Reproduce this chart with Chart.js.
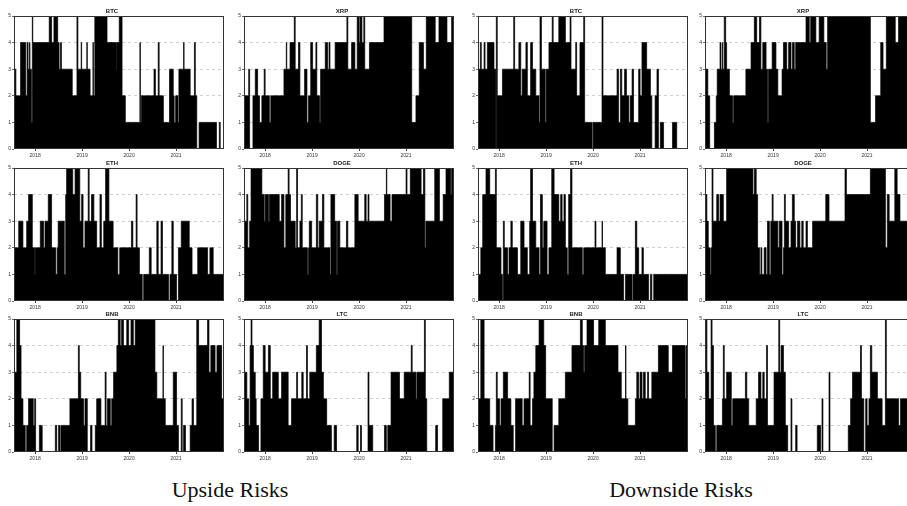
<!DOCTYPE html>
<html>
<head>
<meta charset="utf-8">
<script src="https://cdn.jsdelivr.net/npm/chart.js@4.4.1/dist/chart.umd.min.js"></script>
<style>
  body { margin: 0; width: 907px; height: 506px; overflow: hidden; background: #fff; position: relative; }
  .panel { position: absolute; }
  .cap { position: absolute; font-family: "Liberation Serif", "DejaVu Serif", serif; font-size: 22px; color: #111;
         transform: translateX(-50%); white-space: nowrap; }
</style>
</head>
<body>
<div class="cap" style="left:230px; top:477px;">Upside Risks</div>
<div class="cap" style="left:681px; top:477px;">Downside Risks</div>
<script>
// axis labels
const yearTicks = [2018, 2019, 2020, 2021];
const riskLevels = [0, 1, 2, 3, 4, 5];
const xStart = 2017.55, xEnd = 2022.02;
const lastDate = 2022.0;

// each series: [decimal year where the level starts, risk level]
// --- upside risks ---
const btcUp = [[2017.55,3],[2017.59,2],[2017.69,4],[2017.80,2],[2017.83,4],[2017.85,3],[2017.88,4],[2017.89,3],[2017.92,1],[2017.94,5],
  [2017.95,4],[2018.30,5],[2018.35,4],[2018.40,5],[2018.48,4],[2018.51,3],[2018.54,4],[2018.56,3],[2018.79,2],[2018.89,5],
  [2018.91,3],[2018.98,4],[2018.99,3],[2019.10,4],[2019.11,3],[2019.17,2],[2019.23,4],[2019.24,2],[2019.27,5],[2019.53,4],
  [2019.73,3],[2019.74,4],[2019.79,5],[2019.85,2],[2019.92,1],[2020.23,4],[2020.24,1],[2020.26,2],[2020.53,3],[2020.56,2],
  [2020.62,4],[2020.64,2],[2020.73,1],[2020.86,3],[2020.94,2],[2020.96,1],[2020.99,2],[2021.04,1],[2021.06,3],[2021.16,4],
  [2021.17,3],[2021.30,2],[2021.39,4],[2021.41,2],[2021.44,0],[2021.49,1],[2021.86,0],[2021.92,1],[2021.94,0]];
const xrpUp = [[2017.55,2],[2017.65,3],[2017.67,0],[2017.74,2],[2017.79,3],[2017.84,2],[2017.88,1],[2017.93,2],[2017.98,3],[2018.00,2],
  [2018.09,1],[2018.12,2],[2018.40,3],[2018.45,4],[2018.46,3],[2018.53,4],[2018.62,5],[2018.64,3],[2018.71,4],[2018.74,2],
  [2018.84,3],[2018.89,1],[2018.92,2],[2018.97,4],[2019.01,3],[2019.08,4],[2019.10,2],[2019.16,1],[2019.18,3],[2019.28,4],
  [2019.33,3],[2019.36,4],[2019.38,3],[2019.49,4],[2019.74,5],[2019.76,3],[2019.84,4],[2019.91,3],[2019.96,5],[2020.00,4],
  [2020.02,5],[2020.06,4],[2020.10,5],[2020.12,3],[2020.22,4],[2020.53,5],[2021.12,1],[2021.21,2],[2021.28,4],[2021.37,3],
  [2021.43,5],[2021.62,4],[2021.70,5],[2021.87,4],[2021.97,5]];
const ethUp = [[2017.55,4],[2017.56,2],[2017.65,3],[2017.74,2],[2017.82,3],[2017.86,4],[2017.94,2],[2017.99,1],[2018.00,2],[2018.11,3],
  [2018.18,2],[2018.21,3],[2018.28,4],[2018.35,2],[2018.44,1],[2018.47,2],[2018.49,3],[2018.62,1],[2018.65,4],[2018.67,5],
  [2018.80,4],[2018.85,5],[2018.95,3],[2018.99,4],[2019.02,2],[2019.06,3],[2019.13,5],[2019.15,3],[2019.20,4],[2019.25,3],
  [2019.31,2],[2019.38,4],[2019.41,2],[2019.46,3],[2019.50,5],[2019.57,3],[2019.66,2],[2019.76,1],[2019.80,2],[2020.05,3],
  [2020.08,2],[2020.15,4],[2020.17,2],[2020.22,1],[2020.28,0],[2020.31,1],[2020.43,2],[2020.47,1],[2020.59,3],[2020.62,1],
  [2020.68,3],[2020.71,1],[2020.84,0],[2020.87,1],[2020.91,3],[2020.94,1],[2021.01,0],[2021.05,2],[2021.11,3],[2021.28,2],
  [2021.34,1],[2021.46,2],[2021.67,1],[2021.72,2],[2021.79,1]];
const dogeUp = [[2017.56,3],[2017.61,4],[2017.63,2],[2017.67,3],[2017.70,5],[2017.93,4],[2017.98,3],[2018.00,4],[2018.07,3],[2018.09,4],
  [2018.30,3],[2018.35,4],[2018.40,2],[2018.44,4],[2018.49,5],[2018.51,4],[2018.54,3],[2018.64,2],[2018.67,5],[2018.69,2],
  [2018.74,3],[2018.77,4],[2018.79,2],[2018.90,1],[2018.92,2],[2018.94,3],[2018.99,2],[2019.09,4],[2019.12,2],[2019.15,3],
  [2019.22,4],[2019.25,2],[2019.38,1],[2019.40,4],[2019.48,3],[2019.52,1],[2019.54,3],[2019.59,2],[2019.73,3],[2019.76,2],
  [2019.91,4],[2019.98,3],[2020.12,4],[2020.15,3],[2020.19,4],[2020.21,3],[2020.54,4],[2020.58,5],[2020.59,4],[2020.66,3],
  [2020.70,4],[2021.00,5],[2021.02,4],[2021.09,5],[2021.32,4],[2021.37,5],[2021.40,2],[2021.42,3],[2021.61,5],[2021.71,3],
  [2021.79,4],[2021.85,5],[2021.95,4],[2021.97,5]];
const bnbUp = [[2017.56,3],[2017.61,5],[2017.67,4],[2017.70,2],[2017.74,1],[2017.79,0],[2017.82,1],[2017.86,2],[2017.96,1],[2017.99,2],
  [2018.01,0],[2018.09,1],[2018.15,0],[2018.43,1],[2018.46,0],[2018.50,1],[2018.53,0],[2018.55,1],[2018.74,2],[2018.92,4],
  [2018.94,3],[2018.97,2],[2019.03,1],[2019.06,2],[2019.11,0],[2019.18,1],[2019.21,0],[2019.28,1],[2019.31,2],[2019.40,1],
  [2019.49,3],[2019.51,1],[2019.54,2],[2019.60,1],[2019.63,2],[2019.67,3],[2019.74,4],[2019.77,5],[2019.81,4],[2019.84,5],
  [2019.88,4],[2019.95,5],[2019.99,4],[2020.04,5],[2020.09,4],[2020.13,5],[2020.55,3],[2020.59,2],[2020.72,4],[2020.73,2],
  [2020.77,1],[2020.94,3],[2021.01,1],[2021.05,0],[2021.11,2],[2021.13,0],[2021.16,1],[2021.20,0],[2021.30,1],[2021.34,2],
  [2021.37,1],[2021.44,5],[2021.48,4],[2021.67,5],[2021.70,3],[2021.74,4],[2021.83,3],[2021.87,4],[2021.97,2]];
const ltcUp = [[2017.56,3],[2017.61,2],[2017.65,1],[2017.68,4],[2017.70,5],[2017.72,4],[2017.75,3],[2017.79,2],[2017.81,1],[2017.86,0],
  [2017.91,2],[2017.96,4],[2018.00,3],[2018.07,4],[2018.11,2],[2018.16,3],[2018.28,2],[2018.35,3],[2018.49,1],[2018.56,2],
  [2018.67,3],[2018.69,2],[2018.78,3],[2018.81,2],[2018.88,4],[2018.90,2],[2018.95,3],[2019.09,4],[2019.15,5],[2019.20,3],
  [2019.24,2],[2019.31,1],[2019.41,0],[2019.47,1],[2019.52,0],[2019.95,1],[2019.98,0],[2020.03,1],[2020.05,0],[2020.19,3],
  [2020.21,1],[2020.29,0],[2020.54,1],[2020.58,0],[2020.61,1],[2020.68,3],[2020.86,2],[2020.96,3],[2021.11,4],[2021.13,3],
  [2021.21,2],[2021.23,3],[2021.39,5],[2021.41,2],[2021.44,0],[2021.63,1],[2021.67,0],[2021.78,2],[2021.92,3]];

// --- downside risks ---
const btcDown = [[2017.56,3],[2017.60,4],[2017.62,3],[2017.68,4],[2017.70,3],[2017.75,4],[2017.89,3],[2017.93,0],[2017.94,5],[2017.96,2],
  [2018.07,3],[2018.31,5],[2018.33,3],[2018.42,4],[2018.46,2],[2018.49,3],[2018.57,4],[2018.60,2],[2018.67,4],[2018.71,3],
  [2018.78,2],[2018.85,1],[2018.87,5],[2018.90,3],[2018.98,1],[2019.00,3],[2019.06,4],[2019.13,5],[2019.15,4],[2019.27,5],
  [2019.41,4],[2019.51,5],[2019.53,3],[2019.63,4],[2019.65,2],[2019.72,4],[2019.80,5],[2019.82,1],[2019.98,0],[2020.00,1],
  [2020.19,5],[2020.21,2],[2020.51,3],[2020.54,1],[2020.58,3],[2020.61,2],[2020.67,3],[2020.71,2],[2020.76,1],[2020.79,2],
  [2020.83,3],[2020.86,1],[2020.97,3],[2021.00,2],[2021.04,4],[2021.14,3],[2021.22,2],[2021.25,0],[2021.32,2],[2021.36,3],
  [2021.39,0],[2021.43,1],[2021.50,0],[2021.69,1],[2021.78,0]];
const xrpDown = [[2017.56,3],[2017.61,2],[2017.65,0],[2017.75,1],[2017.79,2],[2017.81,3],[2017.87,4],[2017.89,3],[2017.92,4],[2017.93,3],
  [2017.96,5],[2017.99,4],[2018.01,3],[2018.07,2],[2018.14,1],[2018.16,2],[2018.42,3],[2018.53,4],[2018.60,5],[2018.65,4],
  [2018.71,5],[2018.74,3],[2018.78,4],[2018.85,3],[2018.88,1],[2018.90,3],[2018.98,4],[2019.06,3],[2019.10,2],[2019.19,3],
  [2019.22,4],[2019.29,3],[2019.33,4],[2019.38,3],[2019.41,4],[2019.45,3],[2019.48,4],[2019.70,5],[2019.77,4],[2019.80,5],
  [2019.91,4],[2019.98,5],[2020.08,4],[2020.13,3],[2020.16,5],[2021.07,1],[2021.18,2],[2021.29,4],[2021.34,3],[2021.41,5],
  [2021.60,4],[2021.67,5]];
const ethDown = [[2017.57,1],[2017.61,2],[2017.65,4],[2017.72,5],[2017.80,4],[2017.92,5],[2017.94,2],[2018.04,1],[2018.07,0],[2018.09,3],
  [2018.11,2],[2018.18,1],[2018.21,2],[2018.25,3],[2018.28,2],[2018.39,1],[2018.46,3],[2018.53,2],[2018.60,1],[2018.65,3],
  [2018.67,5],[2018.71,3],[2018.78,2],[2018.85,1],[2018.88,4],[2018.92,2],[2018.95,3],[2019.02,1],[2019.06,2],[2019.12,5],
  [2019.17,4],[2019.27,3],[2019.31,4],[2019.34,3],[2019.38,4],[2019.41,2],[2019.45,1],[2019.48,4],[2019.52,5],[2019.55,2],
  [2019.77,1],[2019.80,2],[2020.04,3],[2020.06,2],[2020.19,3],[2020.20,2],[2020.26,1],[2020.51,2],[2020.58,1],[2020.65,0],
  [2020.69,1],[2020.83,0],[2020.85,1],[2020.90,3],[2020.93,2],[2020.97,1],[2021.04,2],[2021.07,1],[2021.18,0],[2021.22,1],
  [2021.25,0],[2021.29,1]];
const dogeDown = [[2017.56,4],[2017.59,3],[2017.62,2],[2017.66,1],[2017.68,2],[2017.70,5],[2017.72,3],[2017.80,4],[2017.84,3],[2017.87,4],
  [2017.94,3],[2018.01,5],[2018.57,4],[2018.60,5],[2018.64,4],[2018.67,2],[2018.71,1],[2018.74,2],[2018.76,1],[2018.81,2],
  [2018.85,1],[2018.88,3],[2018.92,1],[2018.95,3],[2018.98,4],[2019.00,3],[2019.10,2],[2019.13,3],[2019.19,1],[2019.22,2],
  [2019.24,4],[2019.26,3],[2019.33,2],[2019.38,3],[2019.41,4],[2019.45,3],[2019.48,2],[2019.52,3],[2019.57,2],[2019.61,3],
  [2019.64,2],[2019.70,3],[2019.73,2],[2019.84,3],[2020.12,4],[2020.19,3],[2020.53,5],[2020.56,4],[2021.07,5],[2021.39,2],
  [2021.43,4],[2021.47,3],[2021.59,5],[2021.64,4],[2021.70,3]];
const bnbDown = [[2017.57,2],[2017.61,5],[2017.68,2],[2017.80,1],[2017.87,0],[2017.92,1],[2017.94,3],[2017.96,2],[2018.01,1],[2018.04,2],
  [2018.09,3],[2018.18,2],[2018.25,1],[2018.30,0],[2018.35,2],[2018.49,1],[2018.53,2],[2018.64,3],[2018.66,1],[2018.71,2],
  [2018.74,3],[2018.78,4],[2018.85,5],[2018.95,4],[2018.99,2],[2019.13,0],[2019.17,1],[2019.27,2],[2019.41,3],[2019.55,4],
  [2019.73,5],[2019.77,4],[2019.80,3],[2019.82,4],[2019.87,5],[2020.01,4],[2020.12,5],[2020.26,4],[2020.53,3],[2020.60,2],
  [2020.69,4],[2020.70,2],[2020.74,1],[2020.90,2],[2020.93,3],[2020.97,2],[2021.00,3],[2021.04,2],[2021.07,3],[2021.11,2],
  [2021.16,3],[2021.18,2],[2021.25,3],[2021.39,4],[2021.60,3],[2021.69,4],[2021.96,2],[2021.98,4]];
const ltcDown = [[2017.56,5],[2017.59,3],[2017.63,2],[2017.68,5],[2017.70,4],[2017.73,1],[2017.77,0],[2017.80,1],[2017.92,2],[2017.94,4],
  [2017.96,2],[2018.01,3],[2018.11,1],[2018.14,2],[2018.41,3],[2018.44,2],[2018.48,1],[2018.64,2],[2018.69,3],[2018.74,2],
  [2018.78,3],[2018.81,2],[2018.86,4],[2018.88,1],[2019.02,3],[2019.12,5],[2019.14,3],[2019.17,4],[2019.22,3],[2019.26,1],
  [2019.31,0],[2019.38,2],[2019.40,0],[2019.48,1],[2019.51,0],[2019.94,1],[2020.01,0],[2020.04,2],[2020.06,0],[2020.19,3],
  [2020.21,0],[2020.60,1],[2020.65,2],[2020.69,3],[2020.86,4],[2020.88,2],[2020.93,0],[2020.97,2],[2021.00,1],[2021.04,2],
  [2021.07,4],[2021.10,3],[2021.22,2],[2021.32,1],[2021.39,5],[2021.41,2],[2021.67,1],[2021.71,2]];

// panel grid: which series goes where (left/top = plot area corner)
const PLOT_W = 210, PLOT_H = 133;
const AXIS_W = 14, TITLE_H = 11, XAXIS_H = 10, PAD_R = 2;
const colLeft = [14, 244, 478, 705];
const rowTop = [16, 168, 319];
const panels = [
  { name: 'BTC',  data: btcUp,    col: 0, row: 0 },
  { name: 'XRP',  data: xrpUp,    col: 1, row: 0 },
  { name: 'ETH',  data: ethUp,    col: 0, row: 1 },
  { name: 'DOGE', data: dogeUp,   col: 1, row: 1 },
  { name: 'BNB',  data: bnbUp,    col: 0, row: 2 },
  { name: 'LTC',  data: ltcUp,    col: 1, row: 2 },
  { name: 'BTC',  data: btcDown,  col: 2, row: 0 },
  { name: 'XRP',  data: xrpDown,  col: 3, row: 0 },
  { name: 'ETH',  data: ethDown,  col: 2, row: 1 },
  { name: 'DOGE', data: dogeDown, col: 3, row: 1 },
  { name: 'BNB',  data: bnbDown,  col: 2, row: 2 },
  { name: 'LTC',  data: ltcDown,  col: 3, row: 2 },
];

// frame around the plot region, like a base R box()
const boxPlugin = {
  id: 'box',
  afterDatasetsDraw(chart) {
    const { ctx, chartArea: a } = chart;
    ctx.save();
    ctx.strokeStyle = '#333';
    ctx.lineWidth = 1;
    ctx.strokeRect(Math.round(a.left) + 0.5, Math.round(a.top) + 0.5, Math.round(a.width) - 1, Math.round(a.height) - 1);
    ctx.restore();
  }
};

function makePanel(p) {
  const div = document.createElement('div');
  div.className = 'panel';
  div.style.left = (colLeft[p.col] - AXIS_W) + 'px';
  div.style.top = (rowTop[p.row] - TITLE_H) + 'px';
  const canvas = document.createElement('canvas');
  canvas.width = AXIS_W + PLOT_W + PAD_R;
  canvas.height = TITLE_H + PLOT_H + XAXIS_H;
  div.appendChild(canvas);
  document.body.appendChild(div);

  const pts = p.data.map(d => ({ x: d[0], y: d[1] }));
  pts.push({ x: lastDate, y: p.data[p.data.length - 1][1] });

  new Chart(canvas, {
    type: 'line',
    data: {
      datasets: [{
        data: pts,
        stepped: 'before',
        fill: 'origin',
        backgroundColor: '#000',
        borderColor: '#000',
        borderWidth: 0.7,
        pointRadius: 0
      }]
    },
    options: {
      responsive: false,
      animation: false,
      devicePixelRatio: 1,
      layout: { padding: { left: 0, right: PAD_R, top: 0, bottom: 0 } },
      plugins: {
        legend: { display: false },
        tooltip: { enabled: false },
        title: {
          display: true,
          text: p.name,
          color: '#222',
          font: { family: 'Liberation Sans, Arial, sans-serif', size: 6, weight: 'bold', lineHeight: 1 },
          padding: { top: 3, bottom: 2 }
        }
      },
      scales: {
        x: {
          type: 'linear',
          min: xStart,
          max: xEnd,
          afterBuildTicks: s => { s.ticks = yearTicks.map(v => ({ value: v })); },
          afterFit: s => { s.height = XAXIS_H; },
          ticks: {
            color: '#333', padding: 2, maxRotation: 0, autoSkip: false,
            font: { family: 'Liberation Sans, Arial, sans-serif', size: 5 },
            callback: v => String(v)
          },
          grid: { drawOnChartArea: false, tickLength: 2, tickColor: '#444' },
          border: { display: false }
        },
        y: {
          min: 0,
          max: 5,
          afterBuildTicks: s => { s.ticks = riskLevels.map(v => ({ value: v })); },
          afterFit: s => { s.width = AXIS_W; },
          ticks: {
            color: '#333', padding: 1,
            font: { family: 'Liberation Sans, Arial, sans-serif', size: 5 }
          },
          grid: {
            color: c => (c.tick && c.tick.value > 0 && c.tick.value < 5) ? '#c4c4c4' : 'rgba(0,0,0,0)',
            tickColor: '#444',
            tickLength: 2,
            lineWidth: 0.8
          },
          border: { display: false, dash: [3, 3] }
        }
      }
    },
    plugins: [boxPlugin]
  });
}

panels.forEach(makePanel);
</script>
</body>
</html>
